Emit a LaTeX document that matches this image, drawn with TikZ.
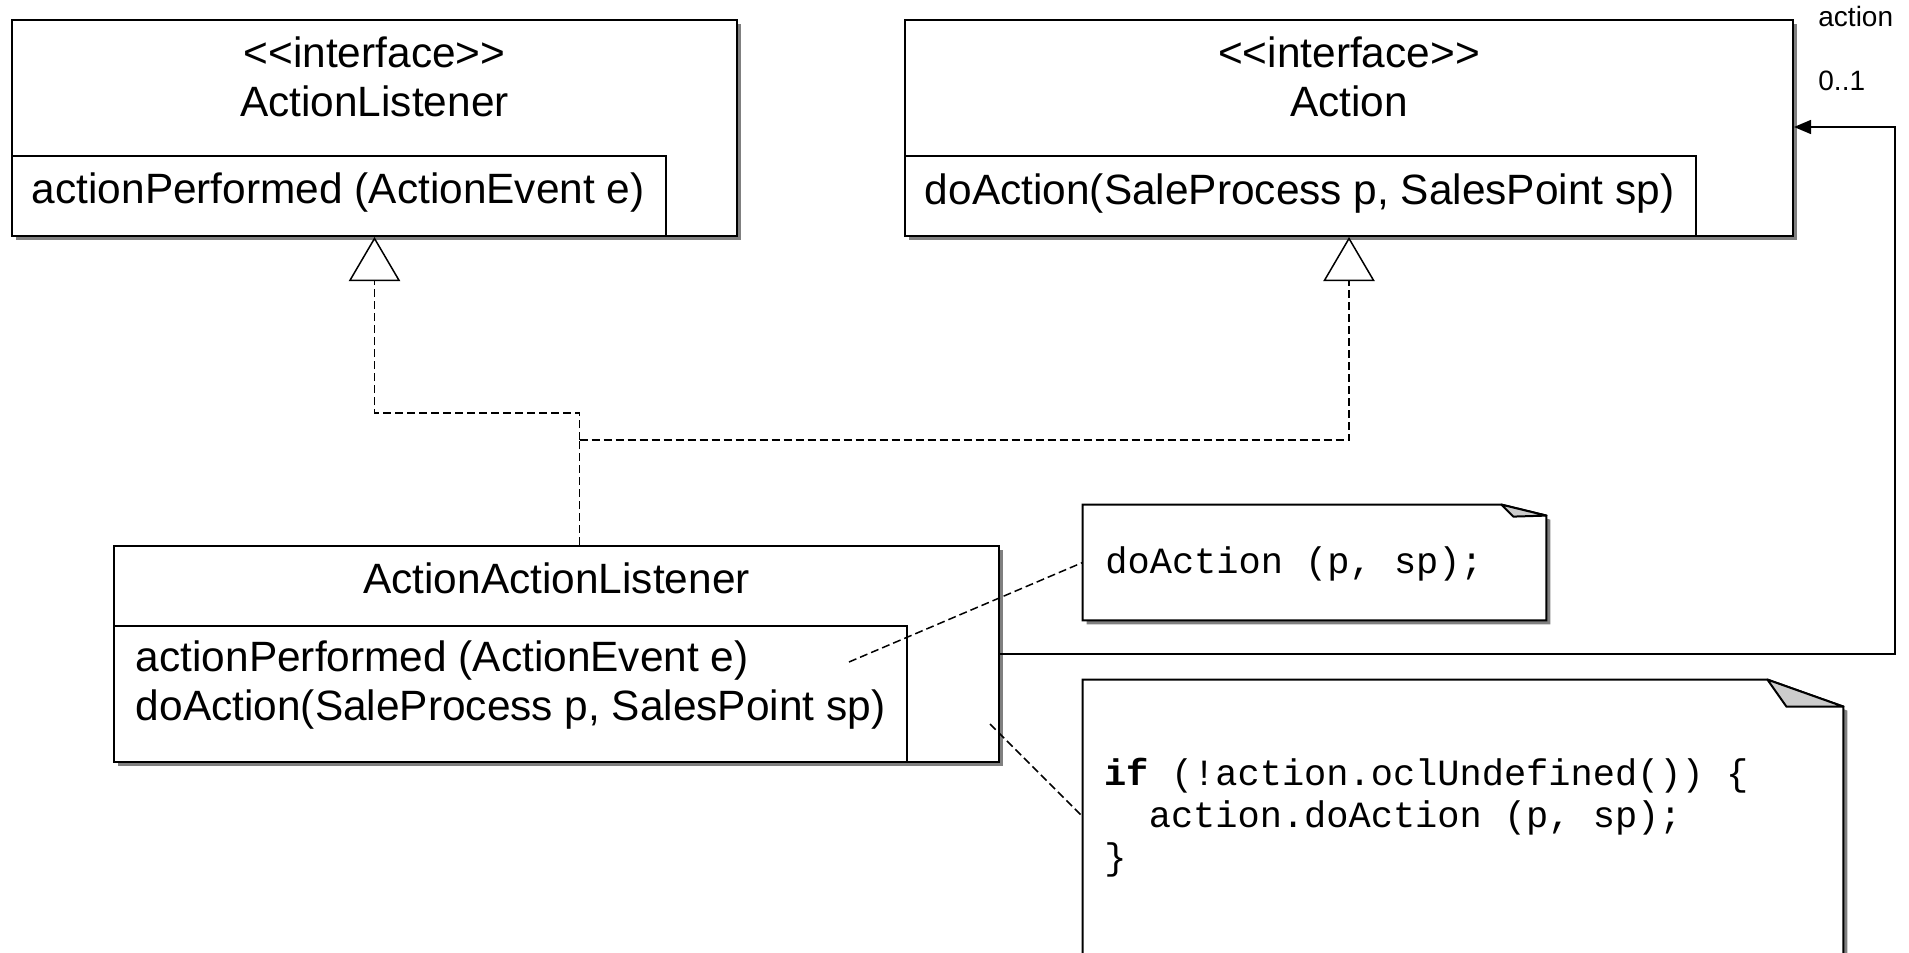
\documentclass[tikz,border=0pt]{standalone}
\usepackage{fontspec}
\setmainfont{Liberation Sans}[Ligatures=TeXOff]
\setmonofont{Liberation Mono}
\usepackage{tikz}
\usetikzlibrary{arrows.meta,positioning,fit,calc,shadows}
\definecolor{fold}{HTML}{CCCCCC}
\definecolor{shade}{HTML}{808080}

\begin{document}
\begin{tikzpicture}[x=0.5pt,y=-0.5pt,font=\fontsize{21.2}{24.5}\selectfont,
 cls/.style={draw,line width=1pt,fill=white,inner sep=0pt,
  drop shadow={shadow xshift=2pt,shadow yshift=-2pt,fill=shade,opacity=1}},
 ops/.style={draw,line width=1pt,inner sep=0pt},
 head/.style={inner sep=0pt,anchor=base,align=center},
 txt/.style={inner sep=0pt,anchor=base west,align=left},
 code/.style={inner sep=0pt,anchor=base west,align=left,font=\ttfamily\fontsize{18.5}{21}\selectfont},
 lbl/.style={inner sep=0pt,anchor=base west,font=\fontsize{14}{16}\selectfont},
 notebox/.style={draw,line width=1pt,fill=white,line join=miter,
  drop shadow={shadow xshift=2pt,shadow yshift=-2pt,fill=shade,opacity=1}},
 foldbox/.style={draw,line width=1pt,fill=fold,line join=round},
 real/.style={line width=0.75pt,dash pattern=on 4pt off 2pt,
  -{Triangle[open,length=22pt,width=25.6pt,line width=0.75pt]}},
 link/.style={line width=0.75pt,dash pattern=on 4pt off 2pt},
 assoc/.style={line width=0.75pt,-{Triangle[length=8.5pt,width=7pt]}}]
\useasboundingbox (0,0) rectangle (1909,952);
% interfaces
\node[cls,fit={(12,20) (737,236)}] (al) {};
\node[ops,fit={(12,156) (666,236)}] (alops) {};
\node[head] (alname) at (374.5,117) {<<interface>>\\ActionListener};
\node[txt] (alop) at (31.5,204) {actionPerformed (ActionEvent e)};
\node[cls,fit={(905,20) (1793,236)}] (ac) {};
\node[ops,fit={(905,156) (1696,236)}] (acops) {};
\node[head] (acname) at (1349,117) {<<interface>>\\Action};
\node[txt] (acop) at (924.5,205) {doAction(SaleProcess p, SalesPoint sp)};
% implementing class
\node[cls,fit={(114,546) (999,762)}] (aal) {};
\node[ops,fit={(114,626) (907,762)}] (aalops) {};
\node[head] (aalname) at (556.5,593) {ActionActionListener};
\node[txt] (aalop) at (135.5,720) {actionPerformed (ActionEvent e)\\doAction(SaleProcess p, SalesPoint sp)};
% notes
\node[fit={(1083,505) (1546,620)},inner sep=0pt] (n1) {};
\draw[notebox] (n1.south west) -- (n1.north west) -- ($(n1.north east)+(-45,0)$)
 -- ($(n1.north east)+(0,11)$) -- (n1.south east) -- cycle;
\filldraw[foldbox] ($(n1.north east)+(-45,0)$) -- ($(n1.north east)+(0,11)$)
 -- ($(n1.north east)+(-33,12)$) -- cycle;
\node[code] (n1code) at (1105,573) {doAction (p, sp);};
\node[fit={(1083,680) (1843,990)},inner sep=0pt] (n2) {};
\draw[notebox] (n2.south west) -- (n2.north west) -- ($(n2.north east)+(-76,0)$)
 -- ($(n2.north east)+(0,27)$) -- (n2.south east) -- cycle;
\filldraw[foldbox] ($(n2.north east)+(-76,0)$) -- ($(n2.north east)+(0,27)$)
 -- ($(n2.north east)+(-57,27)$) -- cycle;
\node[code] (n2code) at (1104,869) {\textbf{if} (!action.oclUndefined()) \{\\\hphantom{xx}action.doAction (p, sp);\\\}};
% realizations
\coordinate (jn) at (579.5,440);
\coordinate (jl) at (579.5,413);
\draw[link] (aal.north -| jn) -- (jn);
\draw[real] (jn) -- (jl) -| (al.south);
\draw[real] (jn) -| (ac.south);
% association
\coordinate (bend) at (1895,127);
\draw[assoc] (aal.east) -| (bend) -- (bend -| ac.east);
\node[lbl] (role) at (1818,27) {action};
\node[lbl] (mult) at (1818,91) {0..1};
% note links
\coordinate (p1) at (849,662);
\coordinate (p2) at (990,724);
\coordinate (q2) at (1083,817);
\draw[link] (p1) -- (n1.west);
\draw[link] (p2) -- (q2);
\end{tikzpicture}
\end{document}
